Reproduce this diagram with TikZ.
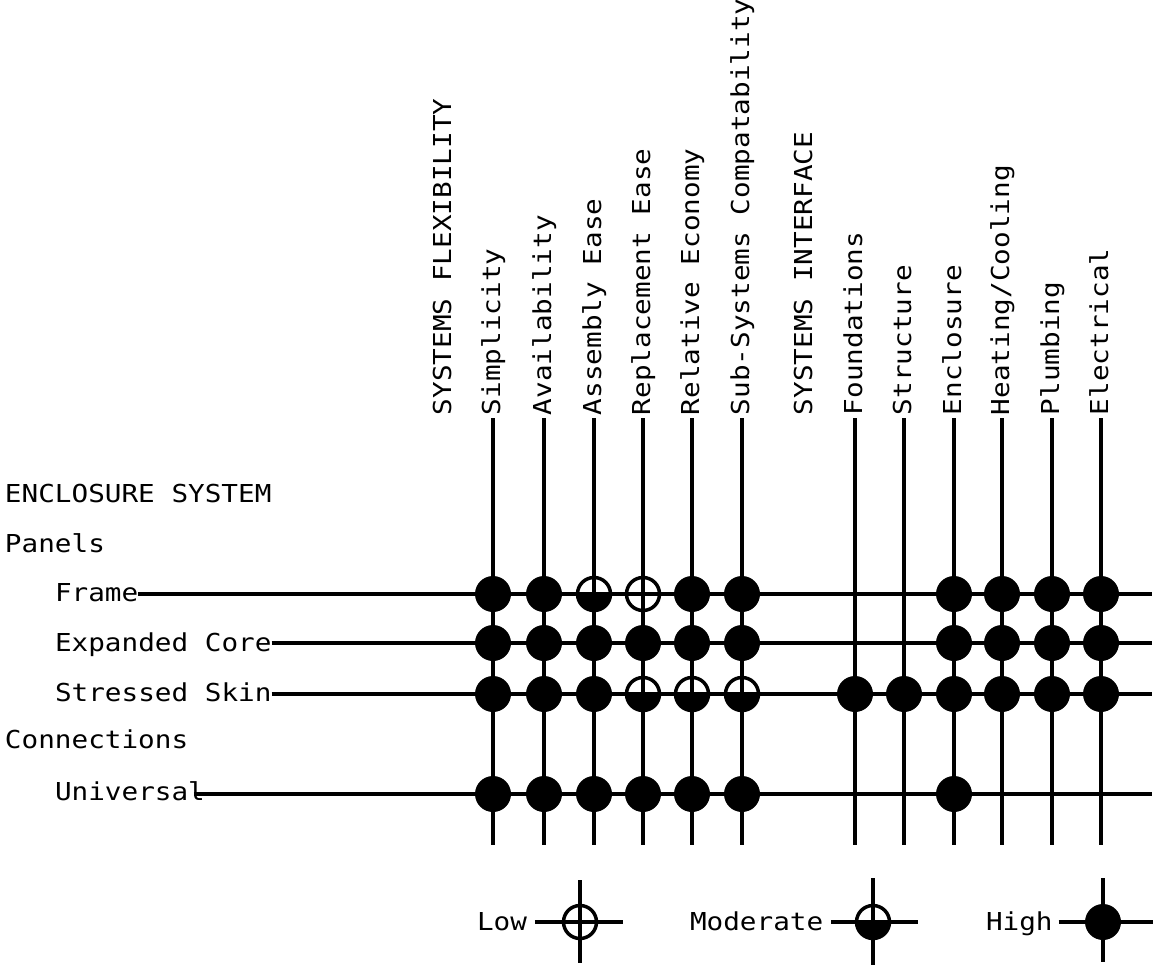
\documentclass[tikz,border=0pt]{standalone}
\usepackage{fontspec}
\setmainfont[FakeStretch=1.12]{DejaVu Sans Mono}
\begin{document}
\begin{tikzpicture}[x=1pt,y=-1pt,
  every node/.style={inner sep=0pt, outer sep=0pt, font=\fontsize{24.7}{30}\selectfont},
  rowlabel/.style={anchor=base west},
  collabel/.style={anchor=base west, rotate=90},
  gridline/.style={line width=3.2pt},
  hi/.style={circle, fill=black, minimum size=36pt},
  lo/.style={circle, draw=black, line width=3.5pt, minimum size=33pt},
  md/.style={lo, path picture={\fill[black] (path picture bounding box.west) rectangle (path picture bounding box.south east);}}
]
\useasboundingbox (0,0) rectangle (1156,966);

% group headings on the left
\node[rowlabel] (enc) at (5,502) {ENCLOSURE SYSTEM};
\node[rowlabel] (pan) at (5,552) {Panels};
\node[rowlabel] (con) at (5,748) {Connections};

% group headings above the columns
\node[collabel] (sflex) at (451,415) {SYSTEMS FLEXIBILITY};
\node[collabel] (sint) at (812,415) {SYSTEMS INTERFACE};

% criteria columns: label and vertical rule
\foreach \i/\x/\lab in {1/493/Simplicity, 2/544/Availability, 3/594/Assembly Ease,
    4/643/Replacement Ease, 5/692/Relative Economy, 6/742/Sub-Systems Compatability,
    7/855/Foundations, 8/904/Structure, 9/954/Enclosure, 10/1002/Heating\slash Cooling,
    11/1052/Plumbing, 12/1101/Electrical} {
  \coordinate (ct\i) at (\x,418);
  \coordinate (cb\i) at (\x,845);
  \node[collabel] (cl\i) at (\x+7,415) {\lab};
  \draw[gridline] (ct\i) -- (cb\i);
}

% component rows: label and horizontal rule
\foreach \i/\y/\b/\lab/\gap in {1/594/601/Frame/0pt, 2/643/651/Expanded Core/0pt,
    3/694/701/Stressed Skin/0pt, 4/794/800/Universal/-11pt} {
  \coordinate (re\i) at (1152,\y);
  \node[rowlabel] (rl\i) at (55,\b) {\lab};
  \draw[gridline, shorten <=\gap] (rl\i.east |- re\i) -- (re\i);
}

% ratings
\foreach \j in {1,2,5,6,9,10,11,12} \node[hi] (m1-\j) at (ct\j |- re1) {};
\node[md] (m1-3) at (ct3 |- re1) {};
\node[lo] (m1-4) at (ct4 |- re1) {};
\foreach \j in {1,2,3,4,5,6,9,10,11,12} \node[hi] (m2-\j) at (ct\j |- re2) {};
\foreach \j in {1,2,3,7,8,9,10,11,12} \node[hi] (m3-\j) at (ct\j |- re3) {};
\foreach \j in {4,5,6} \node[md] (m3-\j) at (ct\j |- re3) {};
\foreach \j in {1,2,3,4,5,6,9} \node[hi] (m4-\j) at (ct\j |- re4) {};

% key
\node[rowlabel] (lowlab) at (477,930) {Low};
\coordinate (lowc) at (580,922);
\coordinate (lowr) at (623,922);
\coordinate (lowt) at (580,880);
\coordinate (lowb) at (580,963);
\draw[gridline, shorten <=8pt] (lowlab.east |- lowc) -- (lowr);
\draw[gridline] (lowt) -- (lowb);
\node[lo] (lowm) at (lowc) {};

\node[rowlabel] (modlab) at (690,930) {Moderate};
\coordinate (modc) at (873,922);
\coordinate (modr) at (918,922);
\coordinate (modt) at (873,878);
\coordinate (modb) at (873,965);
\draw[gridline, shorten <=8pt] (modlab.east |- modc) -- (modr);
\draw[gridline] (modt) -- (modb);
\node[md] (modm) at (modc) {};

\node[rowlabel] (highlab) at (986,930) {High};
\coordinate (highc) at (1103,922);
\coordinate (highr) at (1153,922);
\coordinate (hight) at (1103,878);
\coordinate (highb) at (1103,962);
\draw[gridline, shorten <=6pt] (highlab.east |- highc) -- (highr);
\draw[gridline] (hight) -- (highb);
\node[hi] (highm) at (highc) {};
\end{tikzpicture}
\end{document}
